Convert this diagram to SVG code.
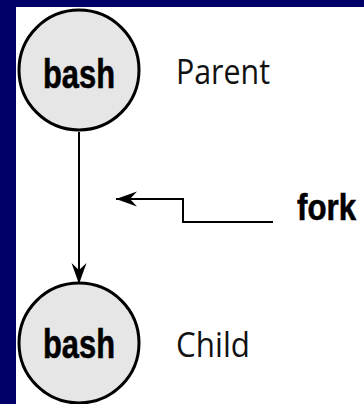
<svg xmlns="http://www.w3.org/2000/svg" width="364" height="404" viewBox="0 0 364 404">
<style>
.node circle{fill:#e6e6e6;stroke:#000;stroke-width:3}
.lbl{font-family:"Liberation Sans",Arial,sans-serif;font-weight:bold;fill:#000;stroke:#000;stroke-width:0.6}
.side{font-family:"Open Sans","Liberation Sans",sans-serif;fill:#111}
.conn{fill:none;stroke:#000;stroke-width:2}
</style>
<defs>
<marker id="ah" viewBox="-21 -8 22 16" markerWidth="22" markerHeight="16" refX="0" refY="0" orient="auto" markerUnits="userSpaceOnUse">
<path d="M0,0 L-21,-7.5 L-14,0 L-21,7.5 Z" fill="#000"/>
</marker>
</defs>
<rect x="0" y="0" width="364" height="404" fill="#000068"/>
<rect x="16" y="7" width="348" height="397" fill="#fff"/>
<g id="connectors">
<path class="conn" d="M79,132 L79,284" marker-end="url(#ah)"/>
<path class="conn" d="M273,222 L183,222 L183,199 L116,199" marker-end="url(#ah)"/>
</g>
<g id="parent" class="node">
<circle cx="79" cy="70" r="60"/>
<text class="lbl" x="79" y="88" font-size="41" text-anchor="middle" textLength="72" lengthAdjust="spacingAndGlyphs">bash</text>
</g>
<g id="child" class="node">
<circle cx="79" cy="343" r="60"/>
<text class="lbl" x="79" y="358" font-size="41" text-anchor="middle" textLength="72" lengthAdjust="spacingAndGlyphs">bash</text>
</g>
<text id="parent-label" class="side" x="176" y="84" font-size="35" textLength="94" lengthAdjust="spacingAndGlyphs">Parent</text>
<text id="child-label" class="side" x="176" y="357" font-size="35" textLength="74" lengthAdjust="spacingAndGlyphs">Child</text>
<text id="fork-label" class="lbl" x="297" y="220" font-size="36" textLength="59" lengthAdjust="spacingAndGlyphs">fork</text>
</svg>
